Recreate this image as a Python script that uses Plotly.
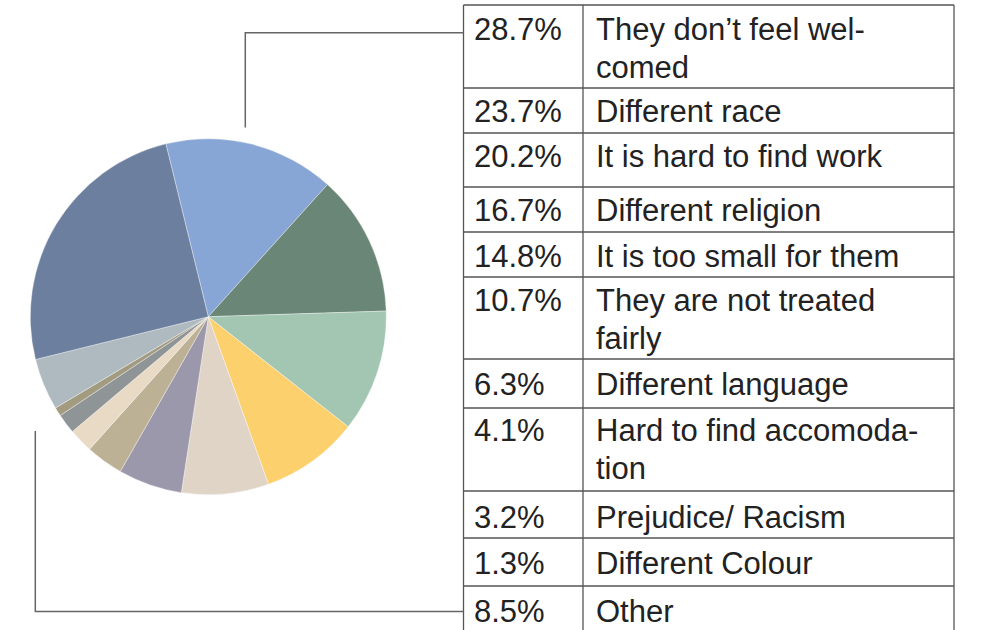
import plotly.graph_objects as go

W, H = 982, 630

# Pie slices (clockwise from the slice at the top), shares
slice_values = [15.5, 12.8, 11.1, 8.9, 7.9, 5.8, 3.4, 2.2, 1.8, 0.8, 4.7, 25.0]
slice_colors = ["#87A6D6", "#6A8676", "#A2C6B1", "#FDD06E", "#E0D4C7", "#9B98AB",
                "#BCB095", "#E9DAC5", "#8F9497", "#A39B80", "#AEBAC0", "#6C7F9E"]

# Table content
pct_labels = ["28.7%", "23.7%", "20.2%", "16.7%", "14.8%", "10.7%",
              "6.3%", "4.1%", "3.2%", "1.3%", "8.5%"]
reason_lines = [["They don\u2019t feel wel-", "comed"],
                ["Different race"],
                ["It is hard to find work"],
                ["Different religion"],
                ["It is too small for them"],
                ["They are not treated", "fairly"],
                ["Different language"],
                ["Hard to find accomoda-", "tion"],
                ["Prejudice/ Racism"],
                ["Different Colour"],
                ["Other"]]

# layout geometry (pixels)
row_tops = [5, 88, 133, 187, 232, 277, 359, 408, 491, 538, 586]
first_baseline = [41, 122.5, 168, 222, 267.5, 312, 396, 441.5, 528.5, 575, 622.5]
line_gap = 38
x_left, x_mid, x_right = 463.5, 583, 954
pie_cx, pie_cy, pie_r = 208.3, 316.7, 178
FS = 31

def px(x):
    return x / W

def py(y):
    return 1 - y / H

fig = go.Figure()
fig.add_trace(go.Pie(
    values=slice_values,
    marker=dict(colors=slice_colors, line=dict(color="rgba(255,255,255,0.6)", width=0.6)),
    sort=False,
    direction="clockwise",
    rotation=-13.8,
    textinfo="none",
    hoverinfo="skip",
    showlegend=False,
    domain=dict(x=[px(pie_cx - pie_r), px(pie_cx + pie_r)],
                y=[py(pie_cy + pie_r), py(pie_cy - pie_r)]),
))

shapes = []
line_style = dict(color="#555555", width=1.3)
for xv in (x_left, x_mid, x_right):
    shapes.append(dict(type="line", xref="paper", yref="paper", x0=px(xv), x1=px(xv),
                       y0=py(row_tops[0]), y1=py(H + 5), line=line_style))
for t in row_tops:
    shapes.append(dict(type="line", xref="paper", yref="paper", x0=px(x_left), x1=px(x_right),
                       y0=py(t), y1=py(t), line=line_style))
# leader lines
lead = dict(color="#666666", width=1.5)
shapes.append(dict(type="path", xref="paper", yref="paper",
                   path=f"M {px(245.3)} {py(127.5)} L {px(245.3)} {py(32.8)} L {px(x_left)} {py(32.8)}",
                   line=lead))
shapes.append(dict(type="path", xref="paper", yref="paper",
                   path=f"M {px(35.3)} {py(431)} L {px(35.3)} {py(611.5)} L {px(x_left)} {py(611.5)}",
                   line=lead))

annotations = []
font = dict(family="Liberation Sans, Arial, sans-serif", size=FS, color="#222222")
desc = FS * 0.24
for i, (p, lines) in enumerate(zip(pct_labels, reason_lines)):
    b = first_baseline[i]
    annotations.append(dict(xref="paper", yref="paper", x=px(473), y=py(b + desc),
                            text=p, showarrow=False, xanchor="left", yanchor="bottom",
                            font=font, borderpad=0))
    for j, ln in enumerate(lines):
        annotations.append(dict(xref="paper", yref="paper", x=px(595), y=py(b + desc + j * line_gap),
                                text=ln, showarrow=False, xanchor="left", yanchor="bottom",
                                font=font, borderpad=0))

fig.update_layout(
    width=W, height=H,
    margin=dict(l=0, r=0, t=0, b=0),
    paper_bgcolor="white", plot_bgcolor="white",
    shapes=shapes, annotations=annotations,
)
fig.write_html("out.html", config={"displayModeBar": False},
               post_script="document.body.style.margin='0';document.body.style.overflow='hidden';")
